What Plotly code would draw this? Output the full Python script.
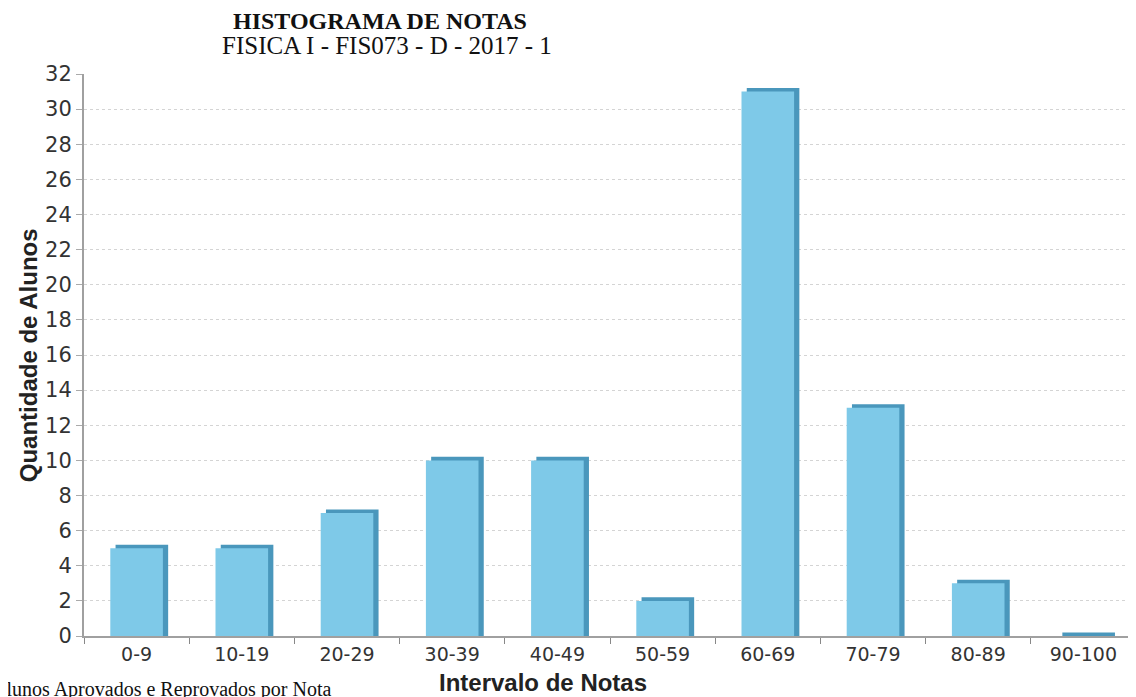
import plotly.graph_objects as go

categories = ["0-9", "10-19", "20-29", "30-39", "40-49", "50-59", "60-69", "70-79", "80-89", "90-100"]
counts = [5, 5, 7, 10, 10, 2, 31, 13, 3, 0]
y_ticks = list(range(0, 33, 2))

title_text = "HISTOGRAMA DE NOTAS"
subtitle_text = "FISICA I - FIS073 - D - 2017 - 1"
x_title = "Intervalo de Notas"
y_title = "Quantidade de Alunos"
footer_text = "Alunos Aprovados e Reprovados por Nota"

depth = 0.2  # visual 3D depth in data units
front_color = "#7EC9E8"
side_color = "#4A97BC"

fig = go.Figure()
# back face (gives the 3D side / top edge)
fig.add_trace(go.Bar(
    x=categories, y=[v + depth for v in counts], base=0,
    width=0.5, offset=-0.20,
    marker=dict(color=side_color, line=dict(width=0)),
    hoverinfo="skip", showlegend=False,
))
# front face
fig.add_trace(go.Bar(
    x=categories, y=counts,
    width=0.5, offset=-0.25,
    marker=dict(color=front_color, line=dict(width=0)),
    showlegend=False,
))

tick_font = "DejaVu Sans, Verdana, sans-serif"
serif = "Liberation Serif, Times New Roman, serif"

fig.update_layout(
    width=1128, height=689,
    margin=dict(l=76, r=0, t=66, b=61),
    paper_bgcolor="white", plot_bgcolor="white",
    barmode="overlay",
    font=dict(family="Liberation Sans, Arial, sans-serif", color="#333"),
    xaxis=dict(
        type="category",
        showline=True, linecolor="#A0A0A0", linewidth=2,
        ticks="outside", tickson="boundaries", ticklen=6, tickcolor="#888",
        tickfont=dict(size=19, color="#333", family=tick_font),
        showgrid=False,
    ),
    yaxis=dict(
        range=[0, 32], tickvals=y_ticks,
        showline=True, linecolor="#A0A0A0", linewidth=2,
        ticks="outside", ticklen=6, tickcolor="#AAA",
        tickfont=dict(size=21, color="#333", family=tick_font),
        showgrid=True, gridcolor="#D4D4D4", griddash="dot", gridwidth=1,
        zeroline=False,
    ),
    annotations=[
        dict(text="<b>" + title_text + "</b>", xref="paper", yref="paper",
             x=0.281, y=1.094, showarrow=False, xanchor="center", yanchor="middle",
             font=dict(family=serif, size=24, color="#111")),
        dict(text=subtitle_text, xref="paper", yref="paper",
             x=0.288, y=1.05, showarrow=False, xanchor="center", yanchor="middle",
             font=dict(family=serif, size=25, color="#111")),
        dict(text="<b>" + x_title + "</b>", xref="paper", yref="paper",
             x=0.436, y=-0.0836, showarrow=False, xanchor="center", yanchor="middle",
             font=dict(size=24, color="#222")),
        dict(text="<b>" + y_title + "</b>", xref="paper", yref="paper",
             x=-0.053, y=0.5, showarrow=False, xanchor="center", yanchor="middle",
             textangle=-90, font=dict(size=24, color="#222")),
        dict(text=footer_text, xref="paper", yref="paper",
             x=-0.0894, y=-0.095, showarrow=False, xanchor="left", yanchor="middle",
             font=dict(family=serif, size=20, color="#111")),
    ],
)

fig.write_html("out.html")
